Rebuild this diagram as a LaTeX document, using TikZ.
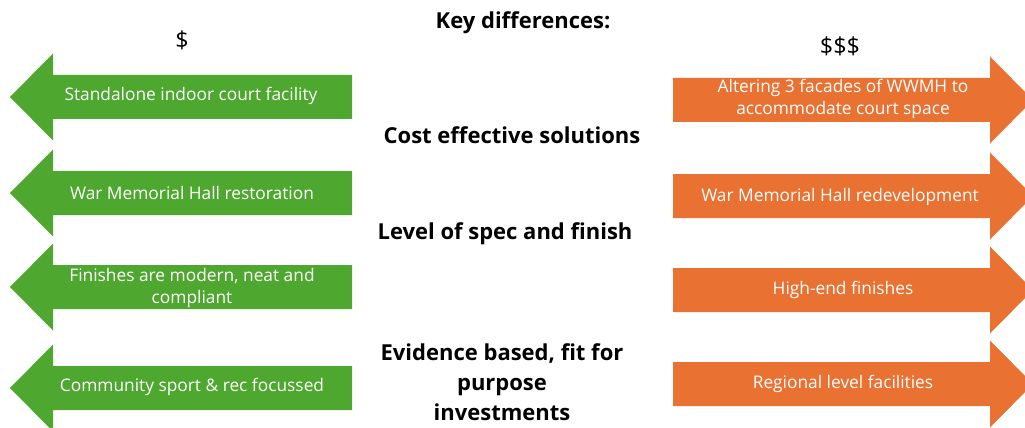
\documentclass[tikz,border=0pt]{standalone}
\usepackage{fontspec}
\setmainfont{Open Sans}
\usepackage{tikz}

\definecolor{cheap}{RGB}{78,167,46}
\definecolor{dear}{RGB}{233,113,50}

\begin{document}
\begin{tikzpicture}[x=0.75pt,y=-0.75pt,
        lbl/.style={text=white,font=\fontsize{13}{16.5}\selectfont,align=center},
        hd/.style={font=\bfseries\fontsize{16.5}{22.5}\selectfont,align=center}]
            \clip (0,0) rectangle (1025,428);

            % green arrows pointing left
            \fill[cheap] (352,75) -- ++(-299,0) -- ++(0,-21.5) -- ++(-43,43.5) -- ++(43,43.5) -- ++(0,-21.5) -- ++(299,0) -- cycle;
            \fill[cheap] (352,171) -- ++(-299,0) -- ++(0,-21.5) -- ++(-43,43.5) -- ++(43,43.5) -- ++(0,-21.5) -- ++(299,0) -- cycle;
            \fill[cheap] (352,265) -- ++(-299,0) -- ++(0,-21.5) -- ++(-43,43.5) -- ++(43,43.5) -- ++(0,-21.5) -- ++(299,0) -- cycle;
            \fill[cheap] (352,366) -- ++(-299,0) -- ++(0,-21.5) -- ++(-43,43.5) -- ++(43,43.5) -- ++(0,-21.5) -- ++(299,0) -- cycle;

            % orange arrows pointing right
            \fill[dear] (673,78) -- ++(317,0) -- ++(0,-21.5) -- ++(43,43.5) -- ++(-43,43.5) -- ++(0,-21.5) -- ++(-317,0) -- cycle;
            \fill[dear] (673,174) -- ++(317,0) -- ++(0,-21.5) -- ++(43,43.5) -- ++(-43,43.5) -- ++(0,-21.5) -- ++(-317,0) -- cycle;
            \fill[dear] (673,268) -- ++(317,0) -- ++(0,-21.5) -- ++(43,43.5) -- ++(-43,43.5) -- ++(0,-21.5) -- ++(-317,0) -- cycle;
            \fill[dear] (673,362) -- ++(317,0) -- ++(0,-21.5) -- ++(43,43.5) -- ++(-43,43.5) -- ++(0,-21.5) -- ++(-317,0) -- cycle;

            \node[lbl] (l1) at (191,96) {Standalone indoor court facility};
            \node[lbl] (l2) at (192,193) {War Memorial Hall restoration};
            \node[lbl] (l3) at (192,288) {Finishes are modern, neat and\\compliant};
            \node[lbl] (l4) at (192,387) {Community sport \& rec focussed};

            \node[lbl] (r1) at (843,99) {Altering 3 facades of WWMH to\\accommodate court space};
            \node[lbl] (r2) at (840,197) {War Memorial Hall redevelopment};
            \node[lbl] (r3) at (843,290) {High-end finishes};
            \node[lbl] (r4) at (843,384) {Regional level facilities};

            \node[font=\fontsize{17.5}{19}\selectfont] (lo) at (182,40) {\$};
            \node[font=\fontsize{17.5}{19}\selectfont] (hi) at (840,46) {\$\$\$};

            \node[hd] (key) at (523,23) {Key differences:};
            \node[hd] (k1) at (512,135) {Cost effective solutions};
            \node[hd] (k2) at (505,234) {Level of spec and finish};
            \node[hd] (k3) at (502,382) {Evidence based, fit for\\purpose\\investments};
        \end{tikzpicture}
\end{document}
